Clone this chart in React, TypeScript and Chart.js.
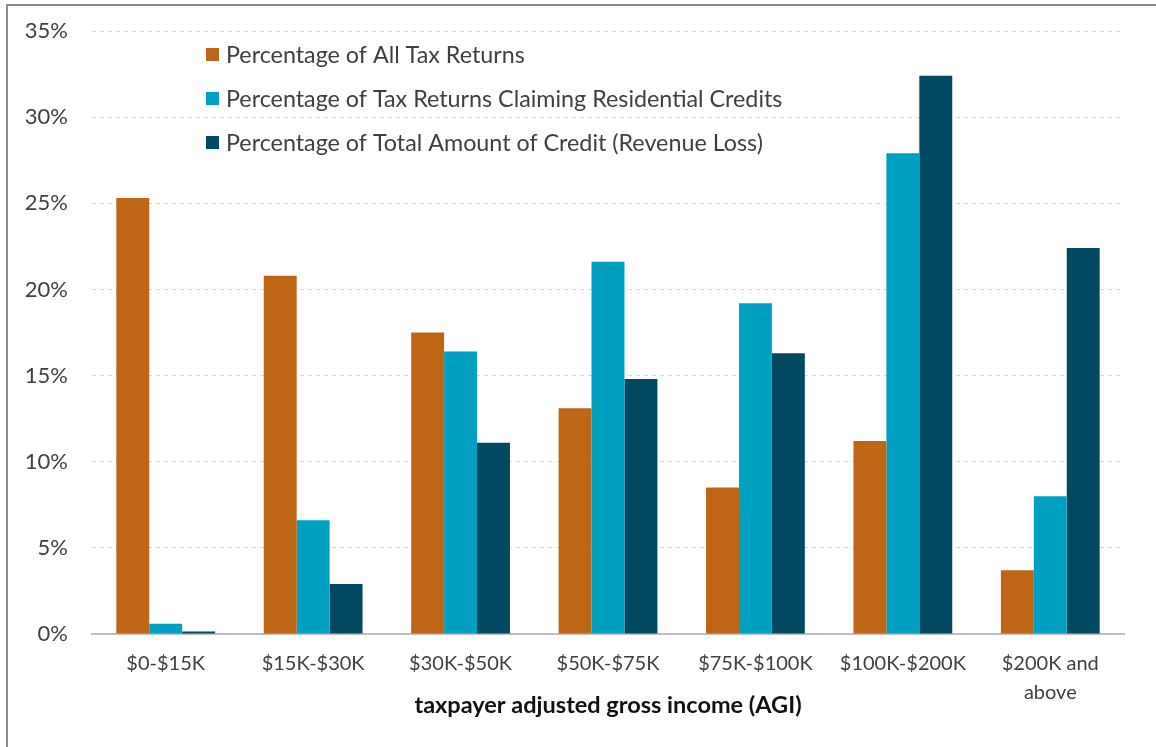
import React, { useEffect, useRef } from 'react';
import { Chart, registerables } from 'chart.js';

Chart.register(...registerables);

const categories: (string | string[])[] = [
  '$0-$15K',
  '$15K-$30K',
  '$30K-$50K',
  '$50K-$75K',
  '$75K-$100K',
  '$100K-$200K',
  ['$200K and', 'above'],
];
const seriesNames = [
  'Percentage of All Tax Returns',
  'Percentage of Tax Returns Claiming Residential Credits',
  'Percentage of Total Amount of Credit (Revenue Loss)',
];
const allReturns = [25.3, 20.8, 17.5, 13.1, 8.5, 11.2, 3.7];
const claimingCredits = [0.6, 6.6, 16.4, 21.6, 19.2, 27.9, 8.0];
const creditAmount = [0.15, 2.9, 11.1, 14.8, 16.3, 32.4, 22.4];
const seriesColors = ['#BE6616', '#00A0C0', '#004960'];
const yMin = 0;
const yMax = 35;
const yStep = 5;
const axisTitle = 'taxpayer adjusted gross income (AGI)';

const FONT = 'Lato, "Open Sans", sans-serif';

const insideLegend = {
  id: 'insideLegend',
  afterDatasetsDraw(chart: any) {
    const ctx = chart.ctx as CanvasRenderingContext2D;
    ctx.save();
    chart.data.datasets.forEach((ds: any, i: number) => {
      const cy = 54.5 + i * 44;
      ctx.fillStyle = ds.backgroundColor;
      ctx.fillRect(206, cy - 6.5, 13, 13);
      ctx.fillStyle = '#404040';
      ctx.font = `23.3px ${FONT}`;
      ctx.textBaseline = 'middle';
      ctx.textAlign = 'left';
      ctx.fillText(ds.label, 226, cy + 1);
    });
    ctx.restore();
  },
};

export default function App() {
  const canvasRef = useRef<HTMLCanvasElement | null>(null);

  useEffect(() => {
    let chart: Chart | null = null;
    let cancelled = false;
    const make = () => {
      if (cancelled || !canvasRef.current) return;
      chart = new Chart(canvasRef.current, {
        type: 'bar',
        data: {
          labels: categories as any,
          datasets: [
            { label: seriesNames[0], data: allReturns, backgroundColor: seriesColors[0] },
            { label: seriesNames[1], data: claimingCredits, backgroundColor: seriesColors[1] },
            { label: seriesNames[2], data: creditAmount, backgroundColor: seriesColors[2] },
          ],
        },
        options: {
          responsive: false,
          animation: false,
          layout: { padding: { top: 31, right: 32, bottom: 27, left: 0 } },
          datasets: {
            bar: { categoryPercentage: 0.67, barPercentage: 1, borderWidth: 0 },
          },
          plugins: {
            legend: { display: false },
            tooltip: { enabled: false },
          },
          scales: {
            x: {
              grid: { display: false, drawTicks: false },
              border: { display: true, color: '#BFBFBF', width: 2 },
              ticks: {
                color: '#404040',
                font: { family: FONT, size: 20, lineHeight: '29px' as any },
                padding: 15.5,
                maxRotation: 0,
                autoSkip: false,
              },
              title: {
                display: true,
                text: axisTitle,
                color: '#111111',
                font: { family: FONT, size: 23.5, weight: 'bold' },
                padding: 0,
              },
              afterFit: (s: any) => {
                s.height = 86;
                s.paddingLeft = 0;
                s.paddingRight = 0;
              },
            },
            y: {
              min: yMin,
              max: yMax,
              grid: {
                color: (c: any) => (c.tick && c.tick.value === 0 ? 'rgba(0,0,0,0)' : '#D9D9D9'),
                lineWidth: 1,
                drawTicks: false,
              },
              border: { display: false, dash: [4, 4] },
              ticks: {
                stepSize: yStep,
                color: '#404040',
                font: { family: FONT, size: 22 },
                padding: 24,
                callback: (v: any) => `${v}%`,
              },
              afterFit: (s: any) => {
                s.width = 92;
                s.paddingTop = 0;
                s.paddingBottom = 0;
              },
            },
          },
        },
        plugins: [insideLegend],
      });
    };
    const fontsApi = (document as any).fonts;
    if (fontsApi && fontsApi.load) {
      Promise.all([
        fontsApi.load(`20px Lato`),
        fontsApi.load(`bold 20px Lato`),
      ])
        .catch(() => null)
        .then(make);
    } else {
      make();
    }
    return () => {
      cancelled = true;
      if (chart) chart.destroy();
    };
  }, []);

  return (
    <div
      style={{
        position: 'fixed',
        left: 0,
        top: 0,
        width: 1156,
        height: 747,
        background: '#ffffff',
        overflow: 'hidden',
      }}
    >
      <div
        style={{
          position: 'absolute',
          left: 6,
          top: 4,
          width: 1200,
          height: 800,
          border: '2px solid #8A8A8A',
          boxSizing: 'border-box',
        }}
      />
      <canvas
        ref={canvasRef}
        width={1156}
        height={747}
        style={{ position: 'absolute', left: 0, top: 0, width: 1156, height: 747 }}
      />
    </div>
  );
}
